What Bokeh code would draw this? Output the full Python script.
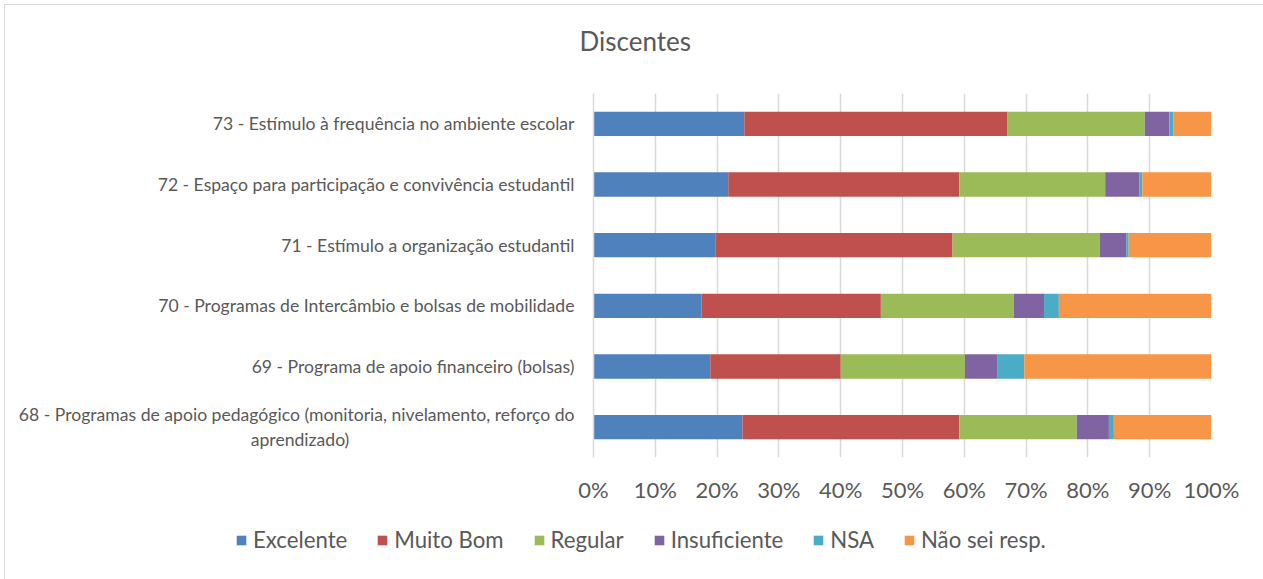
from bokeh.plotting import figure
from bokeh.layouts import column
from bokeh.models import ColumnDataSource, FactorRange, Range1d, FixedTicker, Legend, LegendItem, Title
from bokeh.embed import file_html
from bokeh.resources import INLINE

# the wrapped second line of label 68 is padded with no-break spaces so it sits centred under line 1
categories = [
    "68 - Programas de apoio pedagógico (monitoria, nivelamento, reforço do\naprendizado)" + "\u00a0" * 50,
    "69 - Programa de apoio financeiro (bolsas)",
    "70 - Programas de Intercâmbio e bolsas de mobilidade",
    "71 - Estímulo a organização estudantil",
    "72 - Espaço para participação e convivência estudantil",
    "73 - Estímulo à frequência no ambiente escolar",
]
series_names = ["Excelente", "Muito Bom", "Regular", "Insuficiente", "NSA", "Não sei resp."]
excelente = [24.1, 18.9, 17.5, 19.7, 21.8, 24.4]
muito_bom = [35.1, 21.1, 29.0, 38.4, 37.4, 42.6]
regular = [19.0, 20.1, 21.5, 23.8, 23.6, 22.2]
insuficiente = [5.2, 5.3, 4.9, 4.3, 5.5, 4.0]
nsa = [0.8, 4.3, 2.4, 0.4, 0.5, 0.6]
nao_sei = [15.8, 30.3, 24.7, 13.4, 11.2, 6.2]
tick_values = [0, 10, 20, 30, 40, 50, 60, 70, 80, 90, 100]
tick_labels = ["0%", "10%", "20%", "30%", "40%", "50%", "60%", "70%", "80%", "90%", "100%"]
title_text = "Discentes"

colors = ["#4F81BD", "#C0504D", "#9BBB59", "#8064A2", "#4BACC6", "#F79646"]
keys = ["exc", "mb", "reg", "ins", "nsa", "ns"]
source = ColumnDataSource(dict(cat=categories, exc=excelente, mb=muito_bom, reg=regular,
                               ins=insuficiente, nsa=nsa, ns=nao_sei))

FONT = "Lato"
TXT = "#595959"

# ---- main chart ----
p = figure(width=1258, height=510, output_backend="svg", toolbar_location=None,
           y_range=FactorRange(factors=categories), x_range=Range1d(0, 100))
p.min_border_left = 588
p.min_border_right = 52
p.min_border_top = 88
p.min_border_bottom = 58
p.outline_line_color = None
p.frame_align = False

p.title.text = title_text
p.title.align = "left"
p.title.offset = -14
p.title.vertical_align = "bottom"
p.title.standoff = 0
p.title.text_font = FONT
p.title.text_font_size = "26px"
p.title.text_font_style = "normal"
p.title.text_color = TXT

# blank spacer between the title and the plot area
p.add_layout(Title(text=" ", text_font_size="1px", standoff=34), "above")

renderers = p.hbar_stack(keys, y="cat", height=0.4, color=colors, line_color=None, source=source)

p.xgrid.ticker = FixedTicker(ticks=tick_values)
p.xgrid.grid_line_color = "#d9d9d9"
p.xgrid.grid_line_width = 1.5
p.ygrid.grid_line_color = None

p.xaxis.ticker = FixedTicker(ticks=tick_values)
p.xaxis.major_label_overrides = {v: l for v, l in zip(tick_values, tick_labels)}
p.xaxis.axis_line_color = None
p.xaxis.major_tick_line_color = None
p.xaxis.minor_tick_line_color = None
p.xaxis.major_label_standoff = 12
p.xaxis.major_label_text_font = FONT
p.xaxis.major_label_text_font_size = "22px"
p.xaxis.major_label_text_color = TXT

p.yaxis.axis_line_color = "#d9d9d9"
p.yaxis.axis_line_width = 1.5
p.yaxis.major_tick_line_color = None
p.yaxis.minor_tick_line_color = None
p.yaxis.major_label_standoff = 13
p.yaxis.major_label_text_font = FONT
p.yaxis.major_label_text_font_size = "17.6px"
p.yaxis.major_label_text_color = TXT

# ---- legend strip (its own plot so the legend is not clipped by the chart frame) ----
lg = figure(width=1258, height=64, output_backend="svg", toolbar_location=None,
            x_range=Range1d(0, 100), y_range=FactorRange(factors=categories),
            x_axis_location=None, y_axis_location=None)
lg.min_border = 0
lg.min_border_left = 0
lg.min_border_right = 0
lg.min_border_top = 0
lg.min_border_bottom = 0
lg.outline_line_color = None
lg.frame_align = False
lg.xgrid.visible = False
lg.ygrid.visible = False
lg_rends = lg.hbar_stack(keys, y="cat", height=0.4, color=colors, line_color=None,
                         source=source, visible=False)
items = [LegendItem(label=n, renderers=[r]) for n, r in zip(series_names, lg_rends)]
legend = Legend(items=items, orientation="horizontal", location=(230, 26),
                padding=0, margin=0, spacing=29, glyph_width=12, glyph_height=12,
                label_standoff=6, label_text_font=FONT, label_text_font_size="22.2px",
                label_text_color=TXT, border_line_color=None, background_fill_alpha=0)
lg.add_layout(legend, "center")

layout = column(p, lg, spacing=0)
layout.styles = {"border-top": "1px solid #d9d9d9", "border-left": "1px solid #d9d9d9",
                 "margin-top": "4px", "margin-left": "4px"}

open("out.html", "w").write(file_html(layout, INLINE))
